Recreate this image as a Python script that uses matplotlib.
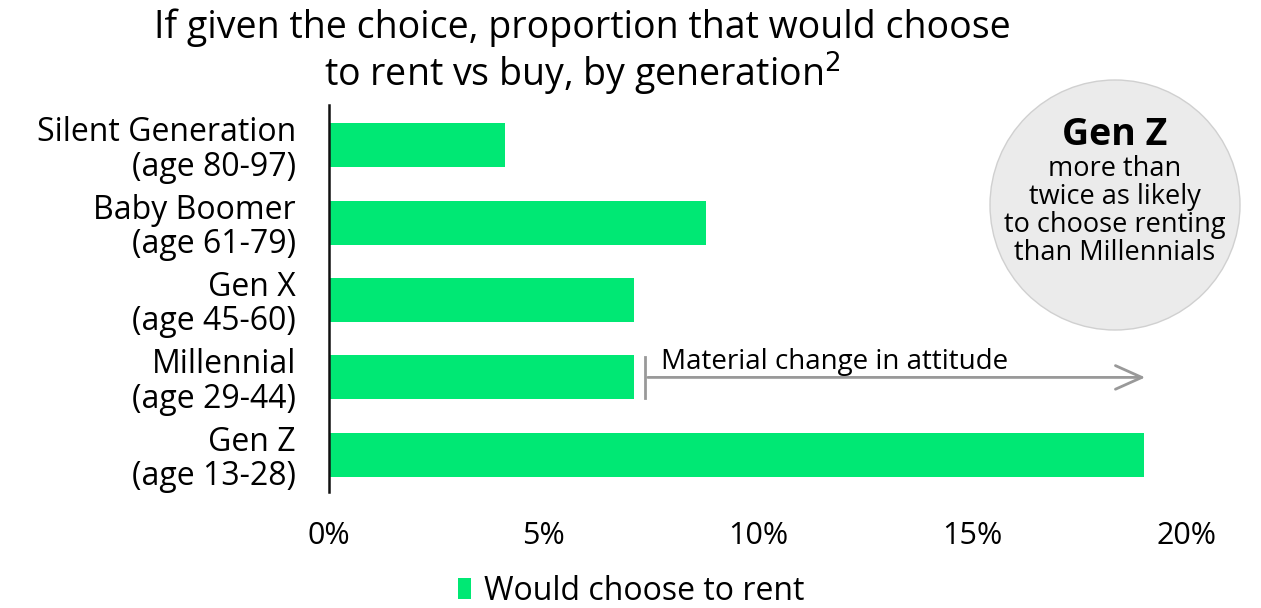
import matplotlib.pyplot as plt
from matplotlib.patches import Ellipse, Rectangle

plt.rcParams['font.family'] = ['Open Sans', 'DejaVu Sans']

# datos
generaciones = ['Silent Generation\n(age 80-97)', 'Baby Boomer\n(age 61-79)', 'Gen X\n(age 45-60)',
                'Millennial\n(age 29-44)', 'Gen Z\n(age 13-28)']
alquilar = [4.1, 8.8, 7.1, 7.1, 19.0]
ticks = [0, 5, 10, 15, 20]
etiquetas = ['0%', '5%', '10%', '15%', '20%']

verde = '#00e874'

fig = plt.figure(figsize=(12.61, 6.08), dpi=100)
ax = fig.add_axes([0.261, 0.191, 0.68, 0.636])

pos = range(len(generaciones))
ax.barh(pos, alquilar, height=0.57, color=verde)
ax.set_ylim(4.48, -0.52)
ax.set_xlim(0, 20)
ax.set_yticks(list(pos))
ax.set_yticklabels(generaciones, fontsize=23, linespacing=1.05)
ax.set_xticks(ticks)
ax.set_xticklabels(etiquetas, fontsize=22)
ax.tick_params(axis='both', length=0)
ax.tick_params(axis='x', pad=21)
ax.tick_params(axis='y', pad=24)
for s in ['top', 'right', 'bottom']:
    ax.spines[s].set_visible(False)
ax.spines['left'].set_linewidth(1.8)
ax.spines['left'].set_color('#111111')

# titulo
fig.text(0.462, 0.954, 'If given the choice, proportion that would choose', ha='center', va='center', fontsize=27)
fig.text(0.462, 0.879, 'to rent vs buy, by generation$^2$', ha='center', va='center', fontsize=27)

# flecha
gris = '#999999'
ax.plot([7.37, 7.37], [2.74, 3.26], color=gris, lw=2)
ax.annotate('', xy=(19.1, 3.0), xytext=(7.37, 3.0),
            arrowprops=dict(arrowstyle='->,head_length=1.9,head_width=0.85', color=gris, lw=2))
ax.text(7.75, 2.98, 'Material change in attitude', fontsize=20, va='bottom', ha='left')

# circulo
circ = Ellipse((1115 / 1261, 1 - 205 / 608), 250 / 1261, 250 / 608, transform=fig.transFigure,
               facecolor='#ebebeb', edgecolor='#d0d0d0', lw=1)
fig.add_artist(circ)
fig.text(1115 / 1261, 1 - 135 / 608, 'Gen Z', ha='center', va='center', fontsize=27, fontweight='bold')
fig.text(1115 / 1261, 1 - 211 / 608, 'more than\ntwice as likely\nto choose renting\nthan Millennials',
         ha='center', va='center', fontsize=19.5, linespacing=1.0)

# leyenda
fig.add_artist(Rectangle((458 / 1261, 1 - 599 / 608), 13 / 1261, 21 / 608, transform=fig.transFigure,
                         facecolor=verde, edgecolor='none'))
fig.text(484 / 1261, 1 - 592 / 608, 'Would choose to rent', ha='left', va='center', fontsize=23)

fig.savefig('out.png', dpi=100)
